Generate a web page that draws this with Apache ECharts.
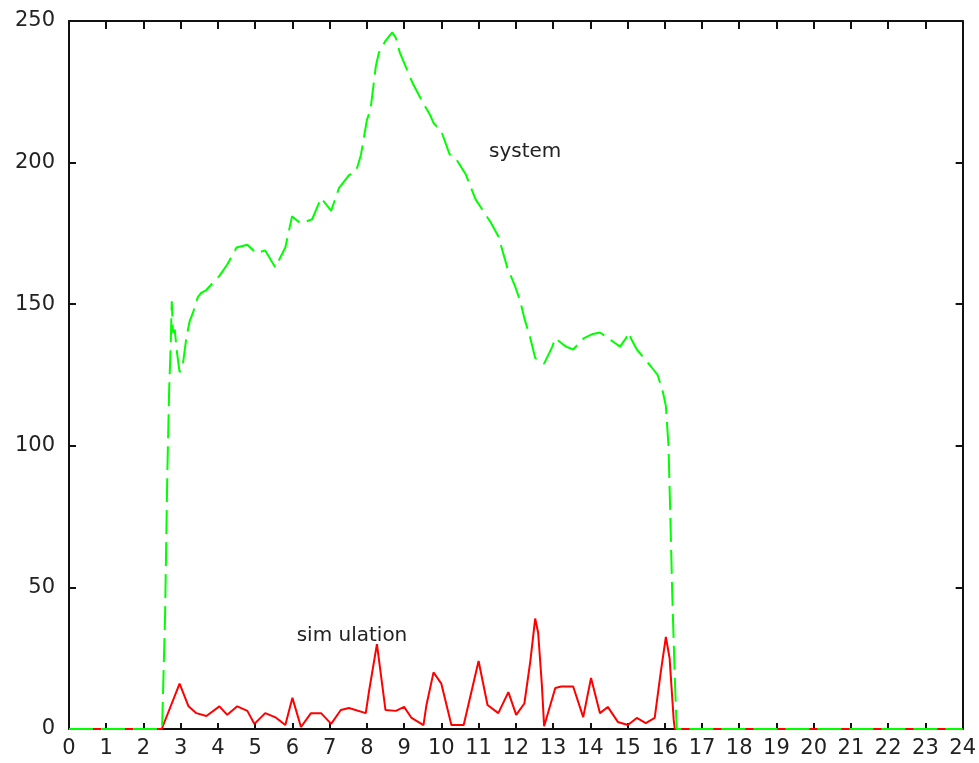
<!DOCTYPE html>
<html>
<head>
<meta charset="utf-8">
<script src="https://cdn.jsdelivr.net/npm/echarts@6/dist/echarts.min.js"></script>
<style>
html,body{margin:0;padding:0;background:#fff;}
#chart{width:979px;height:763px;}
</style>
</head>
<body>
<div id="chart"></div>
<script>
// ---- data (hours, values) ----
const systemHours = [0,2.5,2.58,2.64,2.69,2.73,2.76,2.79,2.84,2.9,2.97,3.05,3.15,3.24,3.33,3.46,3.55,3.69,3.86,4.04,4.25,4.5,4.79,5.03,5.27,5.54,5.81,5.99,6.23,6.53,6.77,7.04,7.25,7.52,7.71,7.84,8.0,8.1,8.24,8.32,8.5,8.68,8.78,8.88,9.04,9.23,9.47,9.69,9.79,10.0,10.22,10.41,10.65,10.92,11.32,11.53,11.77,11.99,12.12,12.23,12.39,12.52,12.76,12.98,13.06,13.35,13.54,13.83,14.07,14.26,14.48,14.8,14.96,15.03,15.09,15.25,15.63,15.81,15.95,16.03,16.06,16.1,16.15,16.2,16.27,16.32,24];
const systemValues = [0,0,40,90,120,135,151,140,141,133,126,128,138,144,147,152.5,154,155,157.5,160,164,170,171,168,169,163,170,181,178.5,180,187.5,183,191,195.6,197,202.7,215,219,234,238.7,243,246,244,239,234,228,222,217,214,211,203,201,196,187,179,174,163,156,151,145,138,131,129,135,138,135,134,138,139.5,140,138,135,138,140,138,134,128,125,119,114,108,100,75,48,18,0,0];

const simHours = [0,2.49,2.97,3.21,3.42,3.69,4.04,4.25,4.52,4.79,4.98,5.27,5.56,5.81,6.0,6.23,6.5,6.77,7.04,7.3,7.52,7.97,8.05,8.27,8.5,8.78,9.0,9.2,9.52,9.6,9.79,10.0,10.27,10.6,11.0,11.24,11.53,11.8,12.01,12.23,12.39,12.52,12.6,12.7,12.76,13.06,13.22,13.54,13.81,14.02,14.26,14.47,14.74,15.01,15.25,15.49,15.73,15.89,16.03,16.13,16.24,16.27,24];
const simValues = [0,0,16,8,5.6,4.6,8,5,8,6.4,1.8,5.6,4,1.4,11,0.7,5.6,5.6,1.8,6.7,7.4,5.6,12.7,30,6.7,6.4,7.8,3.9,1.4,8.5,20,16,1.4,1.4,24,8.5,5.6,13,5,9,24,39,34,15.5,1,14.5,15,15,4.2,18,5.6,7.8,2.5,1.4,3.9,2.1,3.9,19.8,32.5,25,3.2,0,0];

const seriesNames = ['simulation', 'system'];
const seriesLabels = ['sim ulation', 'system'];
const labelAnchors = [[7.6, 32.8], [12.25, 203.7]];

const xTicks = {min: 0, max: 24, interval: 1};
const yTicks = {min: 0, max: 250, interval: 50};

function pairs(xs, ys){ return xs.map((x,i)=>[x, ys[i]]); }

const FONT = 'DejaVu Sans';
const FS = 21;
const axisLineStyle = {color:'#111', width:2};
const tickStyle = {color:'#111', width:2};

const chart = echarts.init(document.getElementById('chart'), null, {renderer:'canvas'});
chart.setOption({
  animation: false,
  backgroundColor: '#ffffff',
  grid: {left: 69, right: 12, top: 21, bottom: 34, containLabel: false},
  xAxis: [
    {type:'value', min:xTicks.min, max:xTicks.max, interval:xTicks.interval, position:'bottom',
     axisLine:{show:true, onZero:false, lineStyle:axisLineStyle},
     axisTick:{show:true, inside:true, length:6, lineStyle:tickStyle},
     axisLabel:{show:true, margin:9, color:'#222', fontFamily:FONT, fontSize:FS},
     splitLine:{show:false}},
    {type:'value', min:xTicks.min, max:xTicks.max, interval:xTicks.interval, position:'top',
     axisLine:{show:true, onZero:false, lineStyle:axisLineStyle},
     axisTick:{show:true, inside:true, length:8, lineStyle:tickStyle},
     axisLabel:{show:false}, splitLine:{show:false}}
  ],
  yAxis: [
    {type:'value', min:yTicks.min, max:yTicks.max, interval:yTicks.interval, position:'left',
     axisLine:{show:true, onZero:false, lineStyle:axisLineStyle},
     axisTick:{show:true, inside:true, length:7, lineStyle:tickStyle},
     axisLabel:{show:true, margin:14, color:'#222', fontFamily:FONT, fontSize:FS},
     splitLine:{show:false}},
    {type:'value', min:yTicks.min, max:yTicks.max, interval:yTicks.interval, position:'right',
     axisLine:{show:true, onZero:false, lineStyle:axisLineStyle},
     axisTick:{show:true, inside:true, length:7, lineStyle:tickStyle},
     axisLabel:{show:false}, splitLine:{show:false}}
  ],
  series: [
    {name: seriesNames[0], type:'line', xAxisIndex:0, yAxisIndex:0,
     data: pairs(simHours, simValues), showSymbol:false, symbol:'none',
     lineStyle:{color:'#ff0000', width:2}, z:2,
     markPoint:{symbol:'circle', symbolSize:0, silent:true,
       label:{show:true, position:'inside', color:'#222', fontFamily:FONT, fontSize:20,
              formatter: seriesLabels[0]},
       data:[{coord: labelAnchors[0]}]}},
    {name: seriesNames[1], type:'line', xAxisIndex:0, yAxisIndex:0,
     data: pairs(systemHours, systemValues), showSymbol:false, symbol:'none',
     lineStyle:{color:'#00ff00', width:2, type:[24, 8]}, z:3,
     markPoint:{symbol:'circle', symbolSize:0, silent:true,
       label:{show:true, position:'inside', color:'#222', fontFamily:FONT, fontSize:20,
              formatter: seriesLabels[1]},
       data:[{coord: labelAnchors[1]}]}}
  ]
});
</script>
</body>
</html>
